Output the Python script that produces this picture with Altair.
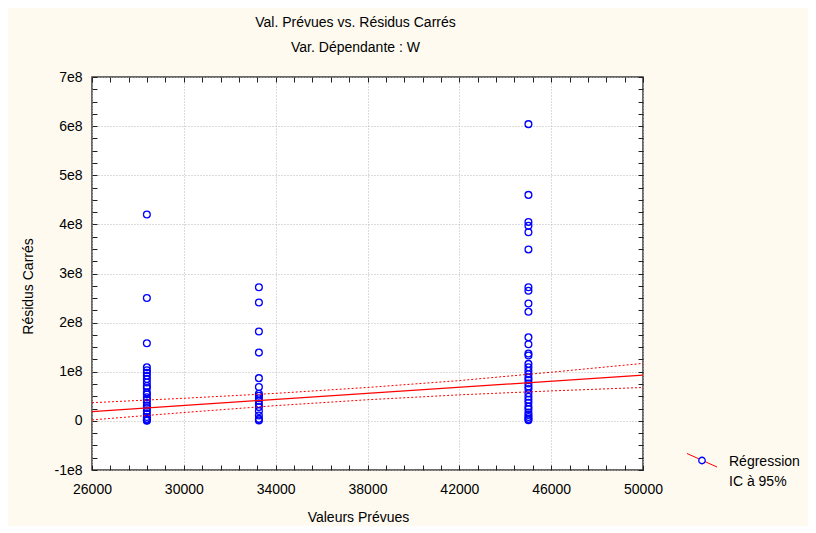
import altair as alt
import pandas as pd

# ---- data (residual squared values in units of 1e8) ----
col_x = [28390, 33270, 45010]
col1 = [4.2, 2.5, 1.58, 1.09, 1.03, 0.98, 0.92, 0.85, 0.78, 0.71, 0.67, 0.58, 0.54,
        0.48, 0.43, 0.37, 0.31, 0.26, 0.20, 0.14, 0.08, 0.04, 0.015, 0.005]
col2 = [2.72, 2.41, 1.82, 1.39, 0.87, 0.69, 0.55, 0.51, 0.46, 0.41, 0.34, 0.28,
        0.20, 0.11, 0.04, 0.01]
col3 = [6.04, 4.6, 4.05, 3.97, 3.84, 3.49, 2.72, 2.65, 2.39, 2.22, 1.70, 1.56, 1.37,
        1.33, 1.16, 1.09, 1.02, 0.95, 0.88, 0.83, 0.76, 0.70, 0.65, 0.56, 0.49, 0.43,
        0.37, 0.29, 0.24, 0.17, 0.12, 0.08, 0.04, 0.015]

fit_x = [26000, 50000]
fit_y = [1.9e7, 9.3e7]

ci_x = [26000, 30000, 34000, 38000, 42000, 46000, 50000]
ci_upper = [3.7e7, 4.6e7, 5.6e7, 6.8e7, 8.2e7, 9.9e7, 11.7e7]
ci_lower = [0.2e7, 1.7e7, 3.1e7, 4.3e7, 5.3e7, 6.1e7, 6.8e7]

x_major = [26000, 30000, 34000, 38000, 42000, 46000, 50000]
y_major = [-1e8, 0, 1e8, 2e8, 3e8, 4e8, 5e8, 6e8, 7e8]
x_ticks = [26000 + 800 * i for i in range(31)]
y_ticks = [-1e8 + 2.5e7 * i for i in range(33)]

title_text = "Val. Prévues vs. Résidus Carrés"
subtitle_text = "Var. Dépendante : W"
x_title = "Valeurs Prévues"
y_title = "Résidus Carrés"
legend_lines = ["Régression", "IC à 95%"]

# ---- tables ----
rows = []
for xv, col in zip(col_x, [col1, col2, col3]):
    for v in col:
        rows.append({"pred": xv, "res": v * 1e8})
pts = pd.DataFrame(rows)
fit = pd.DataFrame({"pred": fit_x, "res": fit_y})
ci = pd.DataFrame(
    {"pred": ci_x + ci_x, "res": ci_upper + ci_lower,
     "band": ["upper"] * len(ci_x) + ["lower"] * len(ci_x)}
)

FONT = "Liberation Sans"
W, H = 551, 393
xs = alt.Scale(domain=[26000, 50000], nice=False, zero=False)
ys = alt.Scale(domain=[-1e8, 7e8], nice=False, zero=False)

tick_common = dict(tickSize=5, offset=-5, domain=False, grid=False,
                   tickColor="#202020", tickWidth=1)

points = alt.Chart(pts).mark_point(
    shape="circle", filled=False, size=46, strokeWidth=1.3, color="#0000ff", opacity=1
).encode(
    x=alt.X("pred:Q", scale=xs, axis=alt.Axis(
        orient="bottom", values=x_ticks,
        labelExpr="(datum.value - 26000) % 4000 == 0 ? datum.value + '' : ''",
        labelOverlap=False, labelFlush=False, labelPadding=12, labelFont=FONT,
        labelFontSize=14, labelColor="black", title=x_title, titleFont=FONT,
        titleFontSize=14, titleFontWeight="normal", titleColor="black",
        titleX=266, titleY=52, titleAlign="center", titleBaseline="middle",
        **tick_common)),
    y=alt.Y("res:Q", scale=ys, axis=alt.Axis(
        orient="left", values=y_ticks,
        labelExpr="datum.value == 0 ? '0' : (datum.value % 100000000 == 0 ? (datum.value / 100000000) + 'e8' : '')",
        labelOverlap=False, labelFlush=False, labelPadding=10, labelFont=FONT,
        labelFontSize=14, labelColor="black", title=y_title, titleFont=FONT,
        titleFontSize=14, titleFontWeight="normal", titleColor="black",
        titleX=-69, titleY=209, titleAngle=-90, titleAlign="center",
        titleBaseline="middle", **tick_common)),
)

fit_line = alt.Chart(fit).mark_line(color="#ff0000", strokeWidth=1.2).encode(
    x=alt.X("pred:Q", scale=xs, axis=alt.Axis(
        orient="top", values=x_ticks, labels=False, title=None, **tick_common)),
    y=alt.Y("res:Q", scale=ys, axis=alt.Axis(
        orient="right", values=y_ticks, labels=False, title=None, **tick_common)),
)

ci_lines = alt.Chart(ci).mark_line(color="#ff0000", strokeWidth=1, strokeDash=[2, 2]).encode(
    x=alt.X("pred:Q", scale=xs, axis=alt.Axis(
        orient="bottom", values=x_major, labels=False, ticks=False, domain=False,
        title=None, grid=True, gridColor="#b8b8b8", gridDash=[1, 2], gridWidth=1)),
    y=alt.Y("res:Q", scale=ys, axis=alt.Axis(
        orient="left", values=y_major, labels=False, ticks=False, domain=False,
        title=None, grid=True, gridColor="#b8b8b8", gridDash=[1, 2], gridWidth=1)),
    detail="band:N",
)

# ---- legend (drawn in pixel space, right of the plot) ----
leg_df = pd.DataFrame({"a": [0]})
leg_rule = alt.Chart(leg_df).mark_rule(color="#ff0000", strokeWidth=1).encode(
    x=alt.value(595), x2=alt.value(625), y=alt.value(376.5), y2=alt.value(390))
leg_pt = alt.Chart(leg_df).mark_point(
    shape="circle", filled=True, fill="white", stroke="#0000ff", strokeWidth=1.3,
    size=42, opacity=1).encode(x=alt.value(610), y=alt.value(383.5))
leg_t1 = alt.Chart(leg_df).mark_text(
    text=legend_lines[0], align="left", baseline="middle", font=FONT, fontSize=14,
    color="black").encode(x=alt.value(637), y=alt.value(384.5))
leg_t2 = alt.Chart(leg_df).mark_text(
    text=legend_lines[1], align="left", baseline="middle", font=FONT, fontSize=14,
    color="black").encode(x=alt.value(637), y=alt.value(404.5))

chart = alt.layer(points, fit_line, ci_lines, leg_rule, leg_pt, leg_t1, leg_t2).resolve_axis(
    x="independent", y="independent"
).properties(
    width=W, height=H,
    autosize=alt.AutoSizeParams(type="none"),
    padding={"left": 84, "top": 69, "right": 165, "bottom": 56},
    background="#fefaf0",
    title=alt.TitleParams(
        text=title_text, subtitle=subtitle_text, anchor="middle", frame="group",
        font=FONT, fontSize=14, fontWeight="normal", color="black",
        subtitleFont=FONT, subtitleFontSize=14, subtitleColor="black",
        subtitlePadding=11, offset=15, dx=-12),
).configure_view(
    stroke="#3a3a3a", strokeWidth=1.5, fill="white"
)

chart.save("out.html", embed_options={"renderer": "svg", "actions": False})
